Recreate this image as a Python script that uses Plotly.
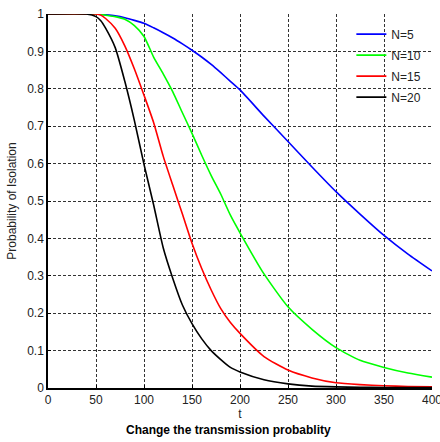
import plotly.graph_objects as go

t = [0, 40, 50, 55, 60, 70, 80, 90, 100, 110, 120, 130, 140, 150, 160, 170,
     180, 190, 200, 225, 250, 275, 300, 325, 350, 375, 400]

n5 = [1, 1, 1, 0.999, 0.998, 0.995, 0.990, 0.983, 0.975, 0.963, 0.950, 0.936,
      0.920, 0.903, 0.885, 0.865, 0.843, 0.820, 0.797, 0.727, 0.659, 0.591,
      0.525, 0.465, 0.408, 0.358, 0.313]
n10 = [1, 1, 1, 0.999, 0.997, 0.993, 0.986, 0.969, 0.940, 0.885, 0.840, 0.792,
       0.736, 0.681, 0.623, 0.568, 0.518, 0.462, 0.415, 0.305, 0.217, 0.157,
       0.108, 0.074, 0.055, 0.040, 0.029]
n15 = [1, 1, 1, 0.997, 0.988, 0.962, 0.915, 0.853, 0.783, 0.710, 0.620, 0.542,
       0.465, 0.387, 0.320, 0.262, 0.212, 0.175, 0.146, 0.084, 0.048, 0.027,
       0.014, 0.009, 0.006, 0.004, 0.003]
n20 = [1, 1, 0.993, 0.982, 0.962, 0.910, 0.820, 0.715, 0.598, 0.490, 0.375,
       0.293, 0.222, 0.172, 0.132, 0.100, 0.076, 0.055, 0.043, 0.022, 0.011,
       0.005, 0.003, 0.002, 0.0015, 0.001, 0.001]

series = [("N=5", n5, "#0000ff"), ("N=10", n10, "#00ff00"),
          ("N=15", n15, "#ff0000"), ("N=20", n20, "#000000")]

xticks = [0, 50, 100, 150, 200, 250, 300, 350, 400]
yticks = [0, 0.1, 0.2, 0.3, 0.4, 0.5, 0.6, 0.7, 0.8, 0.9, 1]
ytick_text = ["0", "0.1", "0.2", "0.3", "0.4", "0.5", "0.6", "0.7", "0.8", "0.9", "1"]

FONT = "Liberation Sans, Arial, sans-serif"

fig = go.Figure()
for name, vals, col in series:
    fig.add_trace(go.Scatter(x=t, y=vals, mode="lines", name=name,
                             legendgroup=name,
                             line=dict(color=col, width=1.6, shape="spline",
                                       smoothing=0.6)))

fig.update_layout(
    width=440, height=442,
    margin=dict(l=48, r=8, t=14, b=54),
    paper_bgcolor="white", plot_bgcolor="white",
    font=dict(family=FONT, size=12, color="#222222"),
    showlegend=True,
    legend=dict(x=0.79, y=0.985, xanchor="left", yanchor="top",
                bgcolor="rgba(0,0,0,0)", borderwidth=0,
                font=dict(family=FONT, size=12, color="#222222"),
                tracegroupgap=2, itemwidth=30),
    xaxis=dict(range=[0, 400], tickvals=xticks, showgrid=True,
               gridcolor="#333333", griddash="3px,2px", gridwidth=1,
               showline=True, linecolor="black", linewidth=1.5,
               ticks="inside", ticklen=3, tickcolor="black",
               ticklabeloverflow="allow", automargin=False,
               zeroline=False, title=dict(text="t", standoff=0,
                                          font=dict(size=12))),
    yaxis=dict(range=[0, 1], tickvals=yticks, ticktext=ytick_text,
               showgrid=True, gridcolor="#333333", griddash="3px,2px",
               gridwidth=1, showline=True, linecolor="black", linewidth=1.5,
               ticks="inside", ticklen=3, tickcolor="black",
               zeroline=False, automargin=False,
               title=dict(text="Probability of Isolation", standoff=8,
                          font=dict(size=12))),
)

fig.add_annotation(text="<b>Change the transmission probablity</b>",
                   x=0.47, y=-0.113, xref="paper", yref="paper",
                   xanchor="center", yanchor="middle", showarrow=False,
                   font=dict(family=FONT, size=12, color="black"))

fig.write_html("out.html", config={"displayModeBar": False},
               post_script="document.body.style.margin='0';document.body.style.overflow='hidden';")
